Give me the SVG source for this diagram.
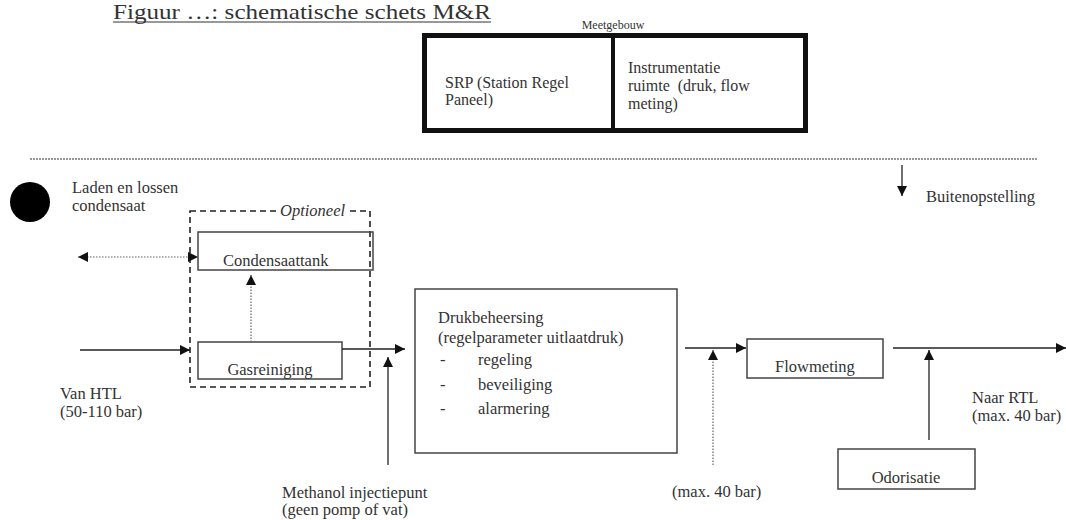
<svg xmlns="http://www.w3.org/2000/svg" width="1066" height="520" viewBox="0 0 1066 520">
<defs>
<marker id="ah" viewBox="0 0 10 10" refX="10" refY="5" markerWidth="10" markerHeight="10" markerUnits="userSpaceOnUse" orient="auto-start-reverse">
<path d="M0,0 L10,5 L0,10 z" fill="#111"/>
</marker>
<style>
text{font-family:"Liberation Serif","Times New Roman",serif;font-size:16.5px;fill:#333}
.box{fill:none;stroke:#444;stroke-width:1.5}
.ln{fill:none;stroke:#222;stroke-width:1.3}
.dot{fill:none;stroke:#666;stroke-width:1.2;stroke-dasharray:1.5 1.5}
</style>
</defs>
<rect width="1066" height="520" fill="#fff"/>
<g id="title">
<text x="113" y="19" style="font-size:21px" textLength="378" lengthAdjust="spacingAndGlyphs">Figuur …: schematische schets M&amp;R</text>
<line x1="113" y1="22" x2="491" y2="22" stroke="#333" stroke-width="1.2"/>
</g>
<g id="meetgebouw">
<text x="613" y="29" text-anchor="middle" style="font-size:12px">Meetgebouw</text>
<rect x="424.5" y="35.5" width="381" height="95" fill="none" stroke="#111" stroke-width="5"/>
<line x1="613" y1="35" x2="613" y2="131" stroke="#111" stroke-width="4"/>
<text x="445" y="88" style="font-size:16px">SRP (Station Regel</text>
<text x="445" y="105" style="font-size:16px">Paneel)</text>
<text x="628" y="73" style="font-size:16px">Instrumentatie</text>
<text x="628" y="91" style="font-size:16px" xml:space="preserve">ruimte  (druk, flow</text>
<text x="628" y="109" style="font-size:16px">meting)</text>
</g>
<g id="separator">
<line x1="30" y1="159" x2="1038" y2="159" stroke="#777" stroke-width="1.3" stroke-dasharray="2 1"/>
</g>
<g id="buitenopstelling">
<text x="926" y="202">Buitenopstelling</text>
</g>
<g id="laden">
<circle cx="30" cy="202" r="20" fill="#000"/>
<text x="72" y="193">Laden en lossen</text>
<text x="72" y="211">condensaat</text>
</g>
<g id="optioneel">
<rect x="190" y="211" width="180" height="176" fill="none" stroke="#222" stroke-width="1.6" stroke-dasharray="6 4"/>
<rect x="279" y="203" width="71" height="14" fill="#fff"/>
<text x="280" y="216" style="font-style:italic">Optioneel</text>
</g>
<g id="condensaattank">
<rect class="box" x="198" y="232" width="175" height="38"/>
<text x="223" y="266">Condensaattank</text>
</g>
<g id="gasreiniging">
<rect class="box" x="198" y="342" width="144" height="37"/>
<text x="270" y="375" text-anchor="middle">Gasreiniging</text>
</g>
<g id="drukbeheersing">
<rect class="box" x="415" y="289" width="262" height="164"/>
<text x="438" y="323">Drukbeheersing</text>
<text x="438" y="343">(regelparameter uitlaatdruk)</text>
<text x="440" y="365">-</text><text x="478" y="365">regeling</text>
<text x="440" y="390">-</text><text x="478" y="390">beveiliging</text>
<text x="440" y="414">-</text><text x="478" y="414">alarmering</text>
</g>
<g id="flowmeting">
<rect class="box" x="747" y="339" width="136" height="39"/>
<text x="815" y="372" text-anchor="middle">Flowmeting</text>
</g>
<g id="odorisatie">
<rect class="box" x="838" y="449" width="137" height="40"/>
<text x="906" y="483" text-anchor="middle">Odorisatie</text>
</g>
<g id="labels">
<text x="60" y="399">Van HTL</text>
<text x="60" y="417">(50-110 bar)</text>
<text x="282" y="498">Methanol injectiepunt</text>
<text x="282" y="515">(geen pomp of vat)</text>
<text x="672" y="497">(max. 40 bar)</text>
<text x="972" y="403">Naar RTL</text>
<text x="972" y="421">(max. 40 bar)</text>
</g>
<g id="connectors">
<line class="ln" x1="902" y1="165" x2="902" y2="196" marker-end="url(#ah)"/>
<line class="dot" x1="78" y1="257" x2="198" y2="257" marker-start="url(#ah)" marker-end="url(#ah)"/>
<line class="dot" x1="251" y1="342" x2="251" y2="275" marker-end="url(#ah)"/>
<line class="ln" x1="80" y1="350" x2="190" y2="350" marker-end="url(#ah)"/>
<line class="ln" x1="342" y1="349" x2="405" y2="349" marker-end="url(#ah)"/>
<line class="ln" x1="388" y1="465" x2="388" y2="357" marker-end="url(#ah)"/>
<line class="ln" x1="685" y1="348" x2="746" y2="348" marker-end="url(#ah)"/>
<line class="dot" x1="713" y1="465" x2="713" y2="350" marker-end="url(#ah)"/>
<line class="ln" x1="893" y1="348" x2="1066" y2="348" marker-end="url(#ah)"/>
<line class="ln" x1="929" y1="440" x2="929" y2="350" marker-end="url(#ah)"/>
</g>
</svg>
